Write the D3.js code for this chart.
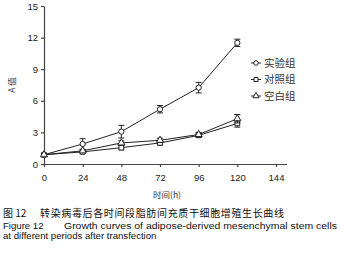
<!DOCTYPE html>
<html>
<head>
<meta charset="utf-8">
<script src="https://cdn.jsdelivr.net/npm/d3@7"></script>
<style>
body { margin: 0; background: #fff; }
text { font-family: Arial, "Liberation Sans", sans-serif; }
.cjk { font-family: "Noto Sans CJK SC", sans-serif; }
</style>
</head>
<body>
<script>
var hours = [0, 24, 48, 72, 96, 120];
var xTicks = [0, 24, 48, 72, 96, 120, 144];
var yTicks = [0, 3, 6, 9, 12, 15];
var seriesNames = ["实验组", "对照组", "空白组"];
var expVals = [0.88, 1.9, 3.07, 5.2, 7.25, 11.5];
var expErr = [0.05, 0.5, 0.6, 0.35, 0.5, 0.35];
var ctrlVals = [0.88, 1.15, 1.55, 2.0, 2.72, 3.85];
var ctrlErr = [0.05, 0.1, 0.2, 0.2, 0.2, 0.35];
var blankVals = [0.88, 1.25, 2.0, 2.25, 2.8, 4.3];
var blankErr = [0.05, 0.1, 0.2, 0.2, 0.2, 0.4];
var shapes = [d3.symbolCircle, d3.symbolSquare, d3.symbolTriangle];

var svg = d3.select("body").append("svg")
  .attr("width", 340).attr("height", 260);

var x = d3.scaleLinear().domain([0, 144]).range([44, 276]);
var y = d3.scaleLinear().domain([0, 15]).range([164, 6]);

var xAxis = svg.append("g").attr("transform", "translate(0,164)")
  .call(d3.axisBottom(x).tickValues(xTicks).tickSize(3).tickSizeOuter(0));
xAxis.select(".domain").attr("d", "M44,0.5H287");
var yAxis = svg.append("g").attr("transform", "translate(44,0)")
  .call(d3.axisLeft(y).tickValues(yTicks).tickSize(3).tickSizeOuter(0));
svg.selectAll(".tick text").attr("font-size", 9.5).attr("fill", "#222")
  .style("font-family", "Arial, 'Liberation Sans', sans-serif");
xAxis.selectAll(".tick text").attr("dy", "1.2em");
svg.selectAll(".domain, .tick line").attr("stroke", "#444").attr("stroke-width", 1.2);

var groups = [
  { vals: expVals, err: expErr },
  { vals: ctrlVals, err: ctrlErr },
  { vals: blankVals, err: blankErr }
];

var line = d3.line().x(function (d) { return x(d[0]); }).y(function (d) { return y(d[1]); });

groups.forEach(function (g, gi) {
  var pts = hours.map(function (h, i) { return [h, g.vals[i], g.err[i]]; });
  svg.append("path").datum(pts).attr("d", line)
    .attr("fill", "none").attr("stroke", "#222").attr("stroke-width", 1);
  var eb = svg.append("g").selectAll("g").data(pts).enter().append("g");
  eb.append("line").attr("x1", function (d) { return x(d[0]); }).attr("x2", function (d) { return x(d[0]); })
    .attr("y1", function (d) { return y(d[1] - d[2]); }).attr("y2", function (d) { return y(d[1] + d[2]); })
    .attr("stroke", "#222");
  [-1, 1].forEach(function (s) {
    eb.append("line").attr("x1", function (d) { return x(d[0]) - 3; }).attr("x2", function (d) { return x(d[0]) + 3; })
      .attr("y1", function (d) { return y(d[1] + s * d[2]); }).attr("y2", function (d) { return y(d[1] + s * d[2]); })
      .attr("stroke", "#222");
  });
  svg.append("g").selectAll("path").data(pts).enter().append("path")
    .attr("d", d3.symbol().type(shapes[gi]).size(22))
    .attr("transform", function (d) { return "translate(" + x(d[0]) + "," + y(d[1]) + ")"; })
    .attr("fill", "#fff").attr("stroke", "#222").attr("stroke-width", 1);
});

var leg = svg.append("g").selectAll("g").data(seriesNames).enter().append("g")
  .attr("transform", function (d, i) { return "translate(256," + (63 + i * 16.5) + ")"; });
leg.append("line").attr("x1", -5).attr("x2", 5).attr("stroke", "#222");
leg.append("path").attr("d", function (d, i) { return d3.symbol().type(shapes[i]).size(16)(); })
  .attr("fill", "#fff").attr("stroke", "#222");
leg.append("text").attr("class", "cjk").attr("x", 8).attr("dy", "0.35em")
  .attr("font-size", 10.5).attr("fill", "#333").text(function (d) { return d; });

svg.append("text").attr("class", "cjk").attr("transform", "translate(15,85) rotate(-90)")
  .attr("text-anchor", "middle").attr("font-size", 8.5).attr("fill", "#333").text("A 值");
svg.append("text").attr("class", "cjk").attr("x", 167).attr("y", 198)
  .attr("text-anchor", "middle").attr("font-size", 8.5).attr("fill", "#333").text("时间(h)");

svg.append("text").attr("class", "cjk").attr("x", 3).attr("y", 217)
  .attr("font-size", 10).attr("fill", "#111").text("图 12");
svg.append("text").attr("class", "cjk").attr("x", 40).attr("y", 217)
  .attr("font-size", 10).attr("fill", "#111")
  .attr("textLength", 244).attr("lengthAdjust", "spacing")
  .text("转染病毒后各时间段脂肪间充质干细胞增殖生长曲线");
svg.append("text").attr("x", 3).attr("y", 229).attr("font-size", 9.6).attr("fill", "#111")
  .text("Figure 12");
svg.append("text").attr("x", 64).attr("y", 229).attr("font-size", 9.6).attr("fill", "#111")
  .attr("textLength", 273).attr("lengthAdjust", "spacingAndGlyphs")
  .text("Growth curves of adipose-derived mesenchymal stem cells");
svg.append("text").attr("x", 3).attr("y", 238.5).attr("font-size", 9.6).attr("fill", "#111")
  .text("at different periods after transfection");
</script>
</body>
</html>
